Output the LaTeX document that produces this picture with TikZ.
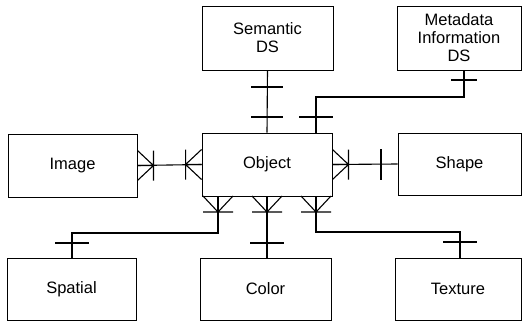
\documentclass[tikz,border=0pt]{standalone}
\usepackage{fontspec}
\setmainfont{Liberation Sans}
\usetikzlibrary{calc}
\begin{document}
\begin{tikzpicture}[x=1pt,y=-1pt,
  box/.style={draw,line width=0.9pt,inner sep=0pt,align=center,
    font=\fontsize{16.5}{18}\selectfont},
  conn/.style={line width=1.1pt},
  crowfoot/.pic={\draw[line width=1.1pt] (0,-15)--(16,0)--(0,15) (0,0)--(16,0) (16,-15)--(16,15);}]
\useasboundingbox (0,0) rectangle (527,321);
% boxes
\node[box,minimum width=130pt,minimum height=63pt] (obj) at (267,164.5) {Object};
\node[box,minimum width=129pt,minimum height=63pt] (img) at (72.5,165.5) {Image};
\node[box,minimum width=123pt,minimum height=62pt] (shape) at (459.5,164) {Shape};
\node[box,minimum width=131pt,minimum height=64pt] (sem) at (267.5,38) {Semantic\\DS};
\node[box,minimum width=124pt,minimum height=64pt] (meta) at (459,38) {Metadata\\Information\\DS};
\node[box,minimum width=129pt,minimum height=62pt] (spat) at (71.5,289) {Spatial};
\node[box,minimum width=131pt,minimum height=62pt] (col) at (265.5,289) {Color};
\node[box,minimum width=126pt,minimum height=62pt] (tex) at (458,289) {Texture};
% helper coordinates
\coordinate (m1) at (464,70);
\coordinate (o1) at (316,133);
\coordinate (b1) at (218,196);
\coordinate (b2) at (267,196);
\coordinate (b3) at (316,196);
\coordinate (s1) at (72,258);
\coordinate (t1) at (460,258);
% Semantic -- Object
\draw[conn] (sem.south) -- (obj.north);
\draw[conn] (251,87) -- (283,87) (251,117) -- (283,117);
% Metadata -- Object
\draw[conn] (m1) -- (464,97) -- (316,97) -- (o1);
\draw[conn] (451,80) -- (477,80) (299,117) -- (333,117);
% Image -- Object
\draw[conn] (img.east) -- (obj.west);
\pic at (img.east) {crowfoot};
\pic[rotate=180] at (obj.west) {crowfoot};
% Object -- Shape
\draw[conn] (obj.east) -- (shape.west);
\pic at (obj.east) {crowfoot};
\draw[conn] (381,149) -- (381,180);
% Object -- bottom
\pic[rotate=-90] at (b1) {crowfoot};
\pic[rotate=-90] at (b2) {crowfoot};
\pic[rotate=-90] at (b3) {crowfoot};
\draw[conn] (b1) -- (218,233) -- (72,233) -- (s1);
\draw[conn] (55,243) -- (89,243);
\draw[conn] (b2) -- (267,258);
\draw[conn] (250,243) -- (284,243);
\draw[conn] (b3) -- (316,232) -- (460,232) -- (t1);
\draw[conn] (443,242) -- (477,242);
\end{tikzpicture}
\end{document}
